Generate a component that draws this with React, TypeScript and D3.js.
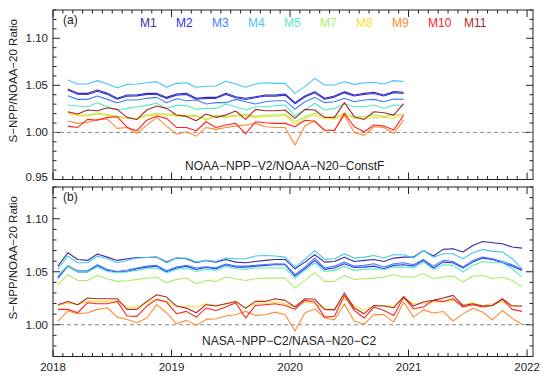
import React from "react";
import * as d3 from "d3";

// band names + colours
const bands = ["M1", "M2", "M3", "M4", "M5", "M7", "M8", "M9", "M10", "M11"];
const bandColors = ["#3a2c9e", "#3030ee", "#3f7cff", "#42c8f0", "#52ecc0", "#a6ee66", "#f8de30", "#ff8a30", "#ff2222", "#a82a2a"];

const yearTicks = [2018, 2019, 2020, 2021, 2022];

// panel (a): NOAA V2 vs NOAA ConstF, Feb 2018 .. Dec 2020 (monthly)
const aStartMonth = 1;
const a_M1 = [1.0461, 1.0415, 1.0415, 1.0450, 1.0415, 1.0362, 1.0397, 1.0397, 1.0415, 1.0415, 1.0372, 1.0408, 1.0415, 1.0362, 1.0372, 1.0372, 1.0415, 1.0379, 1.0362, 1.0379, 1.0397, 1.0397, 1.0408, 1.0316, 1.0386, 1.0433, 1.0362, 1.0386, 1.0433, 1.0397, 1.0415, 1.0426, 1.0397, 1.0433, 1.0426];
const a_M2 = [1.0450, 1.0405, 1.0402, 1.0438, 1.0404, 1.0352, 1.0385, 1.0388, 1.0404, 1.0402, 1.0360, 1.0396, 1.0403, 1.0352, 1.0360, 1.0362, 1.0402, 1.0368, 1.0350, 1.0368, 1.0386, 1.0385, 1.0396, 1.0305, 1.0375, 1.0420, 1.0352, 1.0375, 1.0420, 1.0386, 1.0403, 1.0414, 1.0386, 1.0421, 1.0414];
const a_M3 = [1.0390, 1.0351, 1.0351, 1.0387, 1.0351, 1.0316, 1.0344, 1.0344, 1.0362, 1.0372, 1.0316, 1.0358, 1.0337, 1.0344, 1.0301, 1.0316, 1.0316, 1.0351, 1.0326, 1.0301, 1.0326, 1.0337, 1.0337, 1.0248, 1.0326, 1.0372, 1.0316, 1.0326, 1.0362, 1.0326, 1.0344, 1.0351, 1.0326, 1.0355, 1.0351];
const a_M4 = [1.0557, 1.0514, 1.0514, 1.0550, 1.0514, 1.0475, 1.0510, 1.0514, 1.0528, 1.0539, 1.0479, 1.0521, 1.0528, 1.0479, 1.0490, 1.0493, 1.0543, 1.0515, 1.0479, 1.0514, 1.0528, 1.0521, 1.0521, 1.0415, 1.0486, 1.0574, 1.0504, 1.0504, 1.0539, 1.0510, 1.0528, 1.0532, 1.0514, 1.0550, 1.0539];
const a_M5 = [1.0291, 1.0280, 1.0273, 1.0316, 1.0273, 1.0238, 1.0255, 1.0273, 1.0287, 1.0309, 1.0255, 1.0287, 1.0287, 1.0245, 1.0255, 1.0255, 1.0301, 1.0273, 1.0238, 1.0273, 1.0273, 1.0284, 1.0291, 1.0177, 1.0238, 1.0309, 1.0238, 1.0255, 1.0301, 1.0273, 1.0273, 1.0291, 1.0255, 1.0291, 1.0280];
const a_M7 = [1.0200, 1.0185, 1.0185, 1.0205, 1.0190, 1.0170, 1.0155, 1.0145, 1.0188, 1.0200, 1.0195, 1.0188, 1.0180, 1.0182, 1.0140, 1.0180, 1.0170, 1.0182, 1.0192, 1.0170, 1.0185, 1.0185, 1.0195, 1.0113, 1.0165, 1.0205, 1.0160, 1.0150, 1.0205, 1.0160, 1.0170, 1.0185, 1.0170, 1.0185, 1.0190];
const a_M8 = [1.0210, 1.0178, 1.0176, 1.0195, 1.0182, 1.0160, 1.0150, 1.0140, 1.0178, 1.0190, 1.0185, 1.0176, 1.0170, 1.0172, 1.0128, 1.0172, 1.0160, 1.0172, 1.0178, 1.0160, 1.0170, 1.0172, 1.0180, 1.0088, 1.0150, 1.0185, 1.0145, 1.0140, 1.0200, 1.0150, 1.0145, 1.0160, 1.0158, 1.0150, 1.0202];
const a_M9 = [1.0121, 1.0096, 1.0106, 1.0138, 1.0142, 1.0043, 1.0053, 0.9989, 1.0078, 1.0160, 1.0067, 0.9982, 1.0007, 0.9960, 1.0053, 1.0032, 1.0053, 1.0067, 1.0078, 1.0096, 1.0060, 1.0053, 1.0053, 0.9865, 1.0067, 1.0124, 1.0017, 1.0025, 1.0184, 0.9996, 0.9971, 1.0060, 1.0053, 0.9989, 1.0131];
const a_M10 = [1.0067, 1.0053, 1.0138, 1.0130, 1.0160, 1.0167, 1.0053, 1.0018, 1.0130, 1.0174, 1.0149, 1.0053, 1.0053, 1.0018, 1.0113, 1.0053, 1.0078, 1.0096, 0.9985, 1.0113, 1.0103, 1.0096, 1.0096, 1.0060, 1.0130, 1.0118, 1.0025, 1.0020, 1.0202, 1.0060, 1.0007, 1.0078, 1.0067, 1.0025, 1.0184];
const a_M11 = [1.0220, 1.0195, 1.0238, 1.0230, 1.0262, 1.0245, 1.0160, 1.0138, 1.0238, 1.0280, 1.0255, 1.0185, 1.0170, 1.0124, 1.0195, 1.0160, 1.0184, 1.0227, 1.0138, 1.0245, 1.0230, 1.0230, 1.0238, 1.0149, 1.0245, 1.0238, 1.0160, 1.0160, 1.0316, 1.0167, 1.0138, 1.0220, 1.0209, 1.0184, 1.0305];

// panel (b): NASA C2, Jan 2018 .. Dec 2021 (monthly)
const bStartMonth = 0;
const b_M1 = [1.0553, 1.0679, 1.0616, 1.0607, 1.0667, 1.0638, 1.0607, 1.0623, 1.0635, 1.0635, 1.0638, 1.0591, 1.0629, 1.0623, 1.0585, 1.0607, 1.0591, 1.0616, 1.0591, 1.0585, 1.0597, 1.0607, 1.0616, 1.0616, 1.0528, 1.0591, 1.0660, 1.0591, 1.0597, 1.0638, 1.0597, 1.0607, 1.0616, 1.0597, 1.0629, 1.0638, 1.0638, 1.0701, 1.0648, 1.0711, 1.0717, 1.0686, 1.0748, 1.0786, 1.0774, 1.0764, 1.0733, 1.0723];
const b_M2 = [1.0440, 1.0553, 1.0497, 1.0497, 1.0560, 1.0513, 1.0497, 1.0503, 1.0528, 1.0544, 1.0553, 1.0497, 1.0535, 1.0553, 1.0522, 1.0541, 1.0528, 1.0566, 1.0544, 1.0544, 1.0553, 1.0560, 1.0566, 1.0566, 1.0459, 1.0528, 1.0607, 1.0522, 1.0535, 1.0575, 1.0541, 1.0544, 1.0553, 1.0528, 1.0560, 1.0566, 1.0553, 1.0607, 1.0535, 1.0591, 1.0585, 1.0535, 1.0591, 1.0629, 1.0616, 1.0585, 1.0553, 1.0513];
const b_M3 = [1.0450, 1.0560, 1.0509, 1.0509, 1.0566, 1.0522, 1.0503, 1.0516, 1.0535, 1.0553, 1.0560, 1.0509, 1.0544, 1.0560, 1.0535, 1.0547, 1.0538, 1.0572, 1.0553, 1.0553, 1.0560, 1.0569, 1.0575, 1.0572, 1.0472, 1.0544, 1.0629, 1.0535, 1.0553, 1.0591, 1.0553, 1.0560, 1.0575, 1.0544, 1.0575, 1.0585, 1.0566, 1.0616, 1.0553, 1.0607, 1.0597, 1.0544, 1.0607, 1.0638, 1.0623, 1.0597, 1.0566, 1.0522];
const b_M4 = [1.0528, 1.0648, 1.0585, 1.0585, 1.0648, 1.0623, 1.0585, 1.0607, 1.0629, 1.0635, 1.0638, 1.0585, 1.0629, 1.0629, 1.0591, 1.0607, 1.0597, 1.0629, 1.0623, 1.0623, 1.0648, 1.0654, 1.0648, 1.0638, 1.0544, 1.0616, 1.0701, 1.0616, 1.0623, 1.0670, 1.0629, 1.0638, 1.0654, 1.0629, 1.0660, 1.0660, 1.0629, 1.0701, 1.0638, 1.0670, 1.0670, 1.0623, 1.0679, 1.0711, 1.0692, 1.0686, 1.0623, 1.0528];
const b_M5 = [1.0465, 1.0560, 1.0497, 1.0497, 1.0544, 1.0503, 1.0491, 1.0497, 1.0513, 1.0528, 1.0535, 1.0491, 1.0522, 1.0535, 1.0503, 1.0522, 1.0513, 1.0553, 1.0528, 1.0522, 1.0535, 1.0535, 1.0535, 1.0535, 1.0440, 1.0513, 1.0585, 1.0503, 1.0513, 1.0553, 1.0513, 1.0522, 1.0528, 1.0522, 1.0544, 1.0544, 1.0535, 1.0591, 1.0522, 1.0566, 1.0560, 1.0497, 1.0560, 1.0597, 1.0585, 1.0585, 1.0528, 1.0450];
const b_M7 = [1.0377, 1.0472, 1.0418, 1.0418, 1.0465, 1.0434, 1.0409, 1.0415, 1.0428, 1.0440, 1.0450, 1.0396, 1.0428, 1.0440, 1.0387, 1.0418, 1.0409, 1.0450, 1.0434, 1.0418, 1.0434, 1.0440, 1.0440, 1.0440, 1.0346, 1.0418, 1.0491, 1.0409, 1.0409, 1.0465, 1.0428, 1.0434, 1.0440, 1.0450, 1.0472, 1.0450, 1.0450, 1.0481, 1.0434, 1.0450, 1.0459, 1.0403, 1.0459, 1.0465, 1.0434, 1.0450, 1.0418, 1.0355];
const b_M8 = [1.0182, 1.0204, 1.0192, 1.0220, 1.0220, 1.0220, 1.0226, 1.0167, 1.0167, 1.0214, 1.0239, 1.0220, 1.0176, 1.0176, 1.0167, 1.0198, 1.0182, 1.0198, 1.0214, 1.0157, 1.0198, 1.0198, 1.0214, 1.0198, 1.0167, 1.0214, 1.0198, 1.0151, 1.0145, 1.0245, 1.0182, 1.0135, 1.0176, 1.0182, 1.0176, 1.0252, 1.0198, 1.0198, 1.0214, 1.0214, 1.0230, 1.0189, 1.0208, 1.0182, 1.0198, 1.0214, 1.0182, 1.0176];
const b_M9 = [1.0031, 1.0130, 1.0104, 1.0113, 1.0145, 1.0160, 1.0072, 1.0050, 1.0019, 1.0063, 1.0189, 1.0113, 1.0009, 1.0041, 0.9994, 1.0050, 1.0057, 1.0082, 1.0094, 1.0126, 1.0088, 1.0094, 1.0119, 1.0094, 0.9940, 1.0110, 1.0150, 1.0065, 1.0045, 1.0195, 1.0035, 1.0005, 1.0095, 1.0095, 1.0025, 1.0215, 1.0072, 1.0140, 1.0110, 1.0125, 1.0035, 1.0100, 1.0155, 1.0120, 1.0045, 1.0135, 1.0060, 1.0002];
const b_M10 = [1.0145, 1.0145, 1.0113, 1.0208, 1.0198, 1.0198, 1.0220, 1.0082, 1.0079, 1.0176, 1.0239, 1.0214, 1.0104, 1.0126, 1.0072, 1.0157, 1.0135, 1.0167, 1.0208, 1.0063, 1.0182, 1.0189, 1.0198, 1.0182, 1.0145, 1.0230, 1.0214, 1.0072, 1.0080, 1.0277, 1.0135, 1.0063, 1.0167, 1.0135, 1.0088, 1.0260, 1.0151, 1.0167, 1.0230, 1.0220, 1.0245, 1.0167, 1.0189, 1.0167, 1.0182, 1.0239, 1.0145, 1.0126];
const b_M11 = [1.0189, 1.0220, 1.0189, 1.0252, 1.0245, 1.0245, 1.0245, 1.0145, 1.0145, 1.0220, 1.0283, 1.0261, 1.0176, 1.0157, 1.0113, 1.0189, 1.0176, 1.0198, 1.0220, 1.0157, 1.0220, 1.0220, 1.0245, 1.0230, 1.0167, 1.0245, 1.0240, 1.0145, 1.0140, 1.0300, 1.0157, 1.0104, 1.0182, 1.0176, 1.0160, 1.0265, 1.0176, 1.0214, 1.0230, 1.0252, 1.0277, 1.0182, 1.0198, 1.0176, 1.0182, 1.0245, 1.0176, 1.0176];

const panels = [
  {
    tag: "(a)", caption: "NOAA\u2212NPP\u2212V2/NOAA\u2212N20\u2212ConstF",
    top: 10, bottom: 179.5, domain: [0.95, 1.13], labels: [0.95, 1.0, 1.05, 1.1],
    start: aStartMonth, series: [a_M1, a_M2, a_M3, a_M4, a_M5, a_M7, a_M8, a_M9, a_M10, a_M11],
    capX: 185, capY: 170, legend: true,
  },
  {
    tag: "(b)", caption: "NASA\u2212NPP\u2212C2/NASA\u2212N20\u2212C2",
    top: 187, bottom: 356.5, domain: [0.97, 1.13], labels: [1.0, 1.05, 1.1],
    start: bStartMonth, series: [b_M1, b_M2, b_M3, b_M4, b_M5, b_M7, b_M8, b_M9, b_M10, b_M11],
    capX: 202, capY: 345, legend: false,
  },
];

const left = 53, right = 533;
const font = "'Liberation Sans', Arial, sans-serif";

function Panel({ p, x, isLast }: any) {
  const y = d3.scaleLinear().domain(p.domain).range([p.bottom, p.top]);
  const line = d3.line<number>()
    .x((_, i) => x(2018 + (p.start + i + 0.5) / 12))
    .y((d) => y(d));
  const lo = Math.round(p.domain[0] * 100), hi = Math.round(p.domain[1] * 100);
  const yMinor = d3.range(lo, hi + 1).map((v) => v / 100);
  const months = d3.range(0, 49).map((m) => 2018 + m / 12);
  const mid = (p.top + p.bottom) / 2 - 14;

  return (
    <g>
      {/* y ticks both sides */}
      {yMinor.map((v) => {
        const major = Math.round(v * 100) % 5 === 0;
        const len = major ? 7 : 3.5;
        return (
          <g key={"y" + v}>
            <line x1={left} x2={left + len} y1={y(v)} y2={y(v)} stroke="#222" />
            <line x1={right} x2={right - len} y1={y(v)} y2={y(v)} stroke="#222" />
          </g>
        );
      })}
      {/* x ticks top and bottom */}
      {months.map((m, k) => {
        const len = k % 12 === 0 ? 7 : 3.5;
        const xx = x(m);
        return (
          <g key={"x" + k}>
            <line x1={xx} x2={xx} y1={p.bottom} y2={p.bottom - len} stroke="#222" />
            <line x1={xx} x2={xx} y1={p.top} y2={p.top + len} stroke="#222" />
          </g>
        );
      })}
      <line x1={left} x2={right} y1={y(1)} y2={y(1)} stroke="#8a8a8a" strokeDasharray="4,3" />
      {p.series.map((s: number[], k: number) => (
        <path key={bands[k]} d={line(s) || ""} fill="none" stroke={bandColors[k]} strokeWidth={1.1} strokeLinejoin="round" />
      ))}
      <rect x={left} y={p.top} width={right - left} height={p.bottom - p.top} fill="none" stroke="#222" strokeWidth={1} />
      {p.labels.map((v: number) => (
        <text key={"l" + v} x={48} y={v === p.domain[0] ? y(v) - 3 : y(v)} dy="0.35em" textAnchor="end" fontSize={11.5} fontFamily={font} fill="#222">
          {d3.format(".2f")(v)}
        </text>
      ))}
      <text transform={`translate(16.5,${mid}) rotate(-90)`} textAnchor="middle" fontSize={11.5} fontFamily={font} fill="#222">
        S{"\u2212"}NPP/NOAA{"\u2212"}20 Ratio
      </text>
      <text x={63} y={p.top + 14} fontSize={12} fontFamily={font} fill="#222">{p.tag}</text>
      <text x={p.capX} y={p.capY} fontSize={12} fontFamily={font} fill="#222">{p.caption}</text>
      {p.legend && bands.map((b, k) => (
        <text key={b} x={140 + k * 36} y={26.5} fontSize={12} fontFamily={font} fill={bandColors[k]}>{b}</text>
      ))}
      {isLast && yearTicks.map((t) => (
        <text key={t} x={x(t)} y={371} textAnchor="middle" fontSize={11.5} fontFamily={font} fill="#222">{t}</text>
      ))}
    </g>
  );
}

export default function App() {
  const x = d3.scaleLinear().domain([2018, 2022.05]).range([left, right]);
  return (
    <svg width={550} height={378} style={{ position: "absolute", left: 0, top: 0, background: "#fff" }}>
      {panels.map((p, i) => (
        <Panel key={p.tag} p={p} x={x} isLast={i === panels.length - 1} />
      ))}
    </svg>
  );
}
